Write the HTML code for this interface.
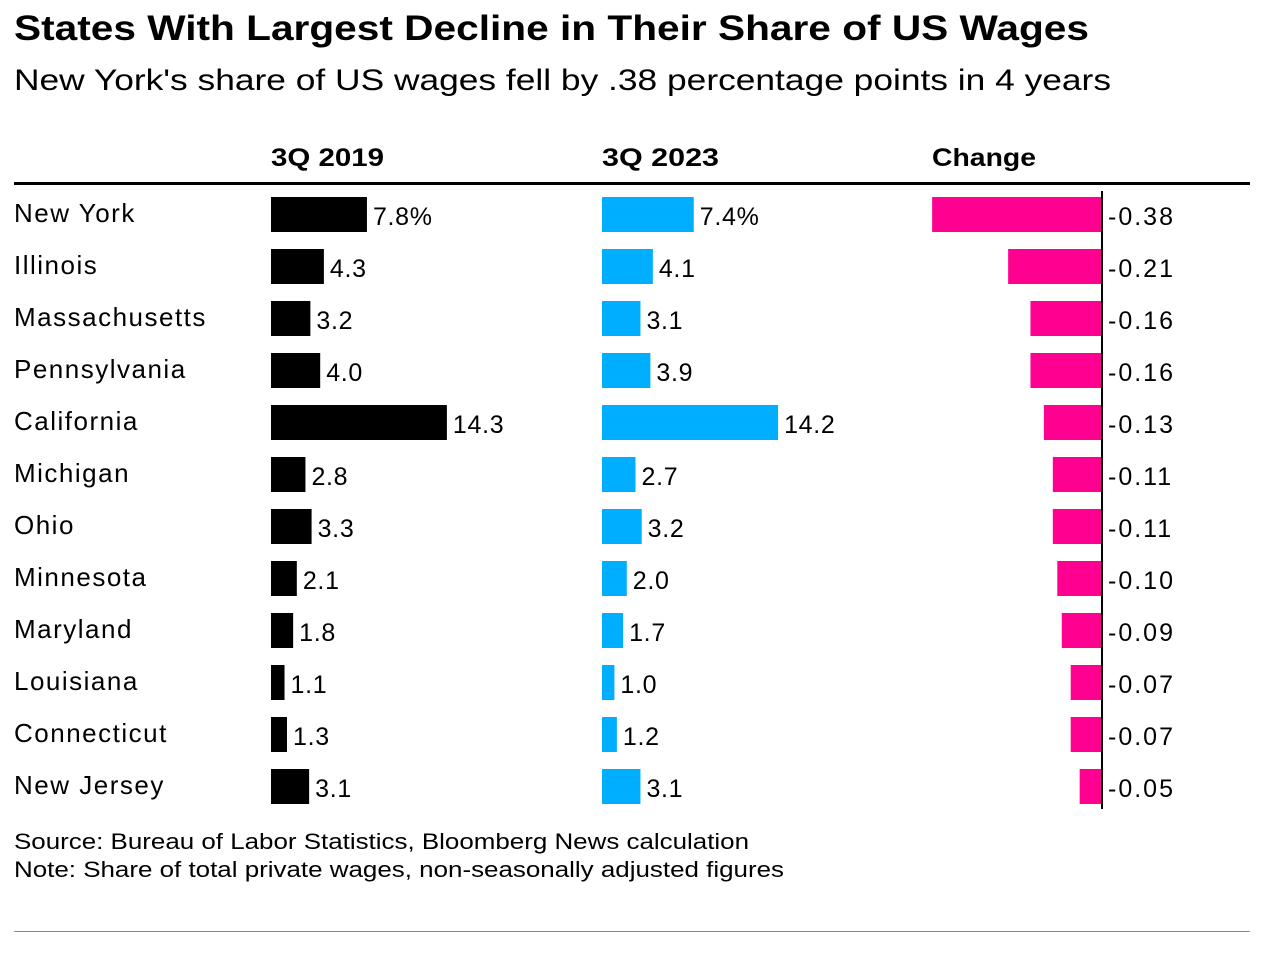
<!DOCTYPE html>
<html><head><meta charset="utf-8">
<style>
body{margin:0;background:#fff;width:1264px;height:954px;overflow:hidden;font-family:"Liberation Sans",Arial,sans-serif;}
svg text{font-family:"Liberation Sans",Arial,sans-serif;}
</style></head>
<body>
<svg id="chart" width="1264" height="954">
<text x="14" y="40" font-size="35" font-weight="bold" fill="#000" textLength="1075" lengthAdjust="spacingAndGlyphs">States With Largest Decline in Their Share of US Wages</text>
<text x="14" y="90" font-size="30" fill="#000" textLength="1097" lengthAdjust="spacingAndGlyphs">New York's share of US wages fell by .38 percentage points in 4 years</text>
<text x="271" y="166" font-size="25" font-weight="bold" textLength="113" lengthAdjust="spacingAndGlyphs">3Q 2019</text>
<text x="602" y="166" font-size="25" font-weight="bold" textLength="117" lengthAdjust="spacingAndGlyphs">3Q 2023</text>
<text x="932" y="166" font-size="25" font-weight="bold" textLength="104" lengthAdjust="spacingAndGlyphs">Change</text>
<rect x="14" y="182" width="1236" height="3" fill="#000"/>
<g id="rows"></g>
<text x="14" y="849" font-size="22.5" textLength="735" lengthAdjust="spacingAndGlyphs">Source: Bureau of Labor Statistics, Bloomberg News calculation</text>
<text x="14" y="877" font-size="22.5" textLength="770" lengthAdjust="spacingAndGlyphs">Note: Share of total private wages, non-seasonally adjusted figures</text>
<rect x="14" y="931" width="1236" height="1" fill="#888"/>
</svg>
<script>
const states=["New York","Illinois","Massachusetts","Pennsylvania","California","Michigan","Ohio","Minnesota","Maryland","Louisiana","Connecticut","New Jersey"];
const share2019=[7.8,4.3,3.2,4.0,14.3,2.8,3.3,2.1,1.8,1.1,1.3,3.1];
const share2023=[7.4,4.1,3.1,3.9,14.2,2.7,3.2,2.0,1.7,1.0,1.2,3.1];
const change=[-0.38,-0.21,-0.16,-0.16,-0.13,-0.11,-0.11,-0.10,-0.09,-0.07,-0.07,-0.05];
const NS="http://www.w3.org/2000/svg";
const g=document.getElementById('rows');
const x19=v=>v*12.3, x23=v=>v*12.4, xc=v=>v*447;
const rowY=i=>197+i*52, barH=35;
function mk(t,a,txt){const e=document.createElementNS(NS,t);for(const k in a)e.setAttribute(k,a[k]);if(txt!=null)e.textContent=txt;g.appendChild(e);return e;}
states.forEach((s,i)=>{
  const y=rowY(i);
  let e=mk('text',{x:14,y:y+25,'font-size':26,'letter-spacing':1.5},s);
  
  
  const w1=x19(share2019[i]);
  e=mk('rect',{x:271,y:y,width:w1,height:barH,fill:'#000'});
  
  
  e=mk('text',{x:271+w1+6,y:y+28,'font-size':25,'letter-spacing':0.7},share2019[i].toFixed(1)+(i==0?'%':''));
  
  
  const w2=x23(share2023[i]);
  e=mk('rect',{x:602,y:y,width:w2,height:barH,fill:'#00aeff'});
  
  
  e=mk('text',{x:602+w2+6,y:y+28,'font-size':25,'letter-spacing':0.7},share2023[i].toFixed(1)+(i==0?'%':''));
  
  
  const w3=-xc(change[i]);
  e=mk('rect',{x:1102-w3,y:y,width:w3,height:barH,fill:'#ff0090'});
  
  
  e=mk('text',{x:1108,y:y+28,'font-size':25,'letter-spacing':2},change[i].toFixed(2));
  
  
});
const z=mk('rect',{x:1101,y:191,width:2,height:618,fill:'#000'});


</script>
</body></html>
